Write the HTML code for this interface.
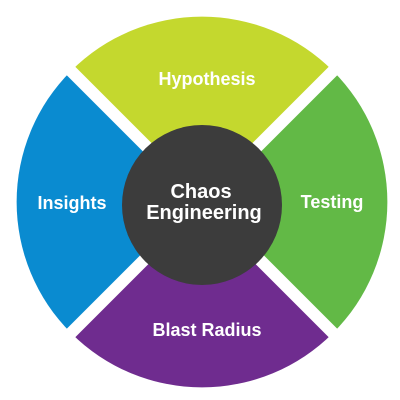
<!DOCTYPE html>
<html><head><style>
html,body{margin:0;padding:0;background:#fff;}
svg{display:block}
text{font-family:"Liberation Sans",sans-serif;font-weight:bold;fill:#fff;text-anchor:middle}
</style></head><body>
<svg width="400" height="400" viewBox="0 0 400 400">
<g transform="translate(202,202)">
<path d="M0,0 L-131,-131 A185,185 0 0 1 131,-131 Z" fill="#c4d82e"/>
<path d="M0,0 L131,-131 A185,185 0 0 1 131,131 Z" fill="#62b946"/>
<path d="M0,0 L131,131 A185,185 0 0 1 -131,131 Z" fill="#6f2c8f"/>
<path d="M0,0 L-131,131 A185,185 0 0 1 -131,-131 Z" fill="#0a8bd0"/>
<line x1="-140" y1="-140" x2="140" y2="140" stroke="#fff" stroke-width="12"/>
<line x1="140" y1="-140" x2="-140" y2="140" stroke="#fff" stroke-width="12"/>
</g>
<circle cx="202" cy="205" r="80" fill="#3c3c3c"/>
<text x="207" y="85" font-size="18">Hypothesis</text>
<text x="72" y="209" font-size="18">Insights</text>
<text x="332" y="208" font-size="18">Testing</text>
<text x="207" y="336" font-size="18">Blast Radius</text>
<text x="201" y="198" font-size="20">Chaos</text>
<text x="204" y="219" font-size="20">Engineering</text>
</svg>
</body></html>
